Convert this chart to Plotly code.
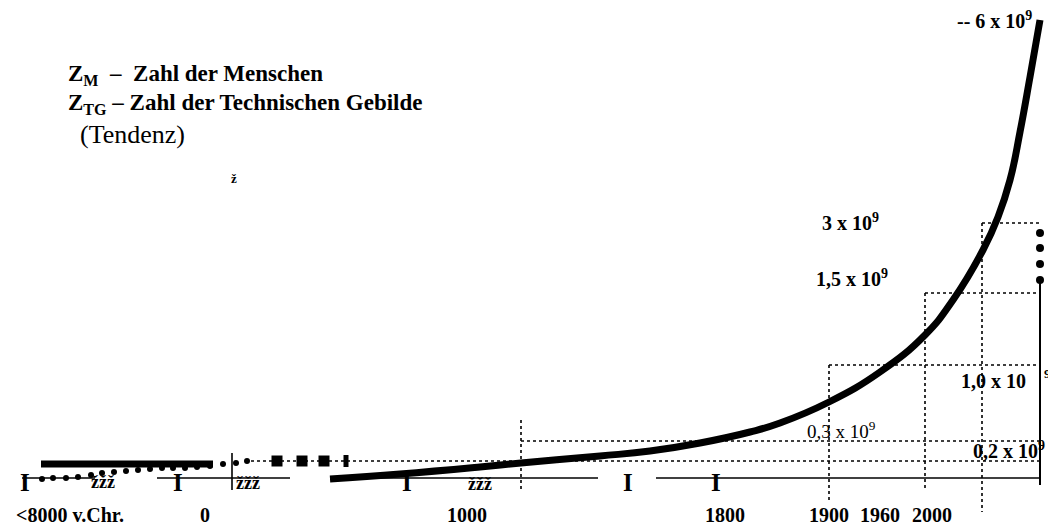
import plotly.graph_objects as go

# Diagram coordinates (schematic; x to the right, y downwards)
curve_x = [330, 400, 480, 521, 600, 650, 700, 750, 780, 829, 880, 925, 953, 983, 998, 1010, 1020, 1030, 1040]
curve_y = [479, 474, 467, 463, 456, 451, 443, 432, 423, 402, 372, 335, 300, 250, 217, 180, 132, 77, 20]

tg_dots_x = [42, 53, 66, 78, 91, 102, 114, 126, 138, 150, 162, 173, 185, 197, 210, 223, 236, 247]
tg_dots_y = [479, 478, 478, 477, 475, 473, 472, 471, 470, 469, 468, 468, 468, 467, 466, 464, 463, 461]
tg_squares_x = [277, 302, 324]
tg_squares_y = [461, 461, 461]

bar_x = [41, 213]
bar_y = [464, 464]

base_segments = [(22, 95), (157, 290), (330, 598), (656, 1040)]
base_y = 478

i_marks_x = [25, 178, 407, 628, 716]
zzz_x = [103, 248, 480]
zzz_y = [482, 483, 484]

# dotted guide lines: (x0, y0, x1, y1)
guides = [
    (245, 461, 1040, 461),
    (521, 441, 1040, 441),
    (521, 420, 521, 490),
    (829, 365, 1038, 365),
    (829, 365, 829, 500),
    (925, 293, 1038, 293),
    (925, 293, 925, 490),
    (982, 223, 1040, 223),
    (982, 223, 982, 512),
]

right_dots_y = [233, 248, 264, 280]
right_x = 1040

tick_labels = ["<8000 v.Chr.", "0", "1000", "1800", "1900", "1960", "2000"]
tick_x = [70, 205, 467, 725, 829, 880, 932]
tick_y = 515

value_labels = [
    ("-- 6 x 10<sup>9</sup>", 1034, 20, "right", True, 20),
    ("3 x 10<sup>9</sup>", 850, 222, "center", True, 20),
    ("1,5 x 10<sup>9</sup>", 852, 278, "center", True, 20),
    ("1,0 x 10", 1028, 381, "right", True, 20),
    ("0,3 x 10<sup>9</sup>", 841, 430, "center", False, 19),
    ("0,2 x 10<sup>9</sup>", 1047, 450, "right", True, 20),
]

FONT = "Liberation Serif, Times New Roman, serif"

fig = go.Figure()

# dotted guides
for x0, y0, x1, y1 in guides:
    fig.add_trace(go.Scatter(x=[x0, x1], y=[y0, y1], mode="lines",
                             line=dict(color="black", width=1.6, dash="dot"),
                             hoverinfo="skip"))

# baseline segments
for a, b in base_segments:
    fig.add_trace(go.Scatter(x=[a, b], y=[base_y, base_y], mode="lines",
                             line=dict(color="black", width=1.6), hoverinfo="skip"))

# vertical line at year 0
fig.add_trace(go.Scatter(x=[232, 232], y=[453, 490], mode="lines",
                         line=dict(color="black", width=1.6), hoverinfo="skip"))

# right vertical line with dots
fig.add_trace(go.Scatter(x=[right_x, right_x], y=[280, 485], mode="lines",
                         line=dict(color="black", width=2), hoverinfo="skip"))
fig.add_trace(go.Scatter(x=[right_x] * len(right_dots_y), y=right_dots_y, mode="markers",
                         marker=dict(color="black", size=8), hoverinfo="skip"))

# bold bar (Z_M early)
fig.add_trace(go.Scatter(x=bar_x, y=bar_y, mode="lines",
                         line=dict(color="black", width=7), hoverinfo="skip"))

# Z_TG dots and squares
fig.add_trace(go.Scatter(x=tg_dots_x, y=tg_dots_y, mode="markers",
                         marker=dict(color="black", size=6), hoverinfo="skip"))
fig.add_trace(go.Scatter(x=tg_squares_x, y=tg_squares_y, mode="markers",
                         marker=dict(color="black", size=11, symbol="square"), hoverinfo="skip"))
fig.add_trace(go.Scatter(x=[346, 346], y=[455, 467], mode="lines",
                         line=dict(color="black", width=5), hoverinfo="skip"))

# main curve
fig.add_trace(go.Scatter(x=curve_x, y=curve_y, mode="lines",
                         line=dict(color="black", width=7, shape="spline", smoothing=1.3),
                         hoverinfo="skip"))

ann = []
for xv in i_marks_x:
    ann.append(dict(x=xv, y=base_y + 4, text="<b>I</b>", showarrow=False,
                    font=dict(family=FONT, size=25, color="black"),
                    xanchor="center", yanchor="middle"))
for xv, yv in zip(zzz_x, zzz_y):
    ann.append(dict(x=xv, y=yv, text="<b>žžž</b>", showarrow=False,
                    font=dict(family=FONT, size=18, color="black"),
                    xanchor="center", yanchor="middle"))
for t, xv in zip(tick_labels, tick_x):
    ann.append(dict(x=xv, y=tick_y, text="<b>" + t + "</b>", showarrow=False,
                    font=dict(family=FONT, size=20, color="black"),
                    xanchor="center", yanchor="middle"))
for t, xv, yv, anc, bold, sz in value_labels:
    ann.append(dict(x=xv, y=yv, text=("<b>" + t + "</b>") if bold else t, showarrow=False,
                    font=dict(family=FONT, size=sz, color="black"),
                    xanchor=anc, yanchor="middle"))
ann.append(dict(x=1042, y=373, text="<b>9</b>", showarrow=False,
                font=dict(family=FONT, size=13, color="black"), xanchor="left", yanchor="middle"))

ann.append(dict(x=66, y=75, text="<b>Z<sub>M</sub>  –  Zahl der Menschen</b>", showarrow=False,
                font=dict(family=FONT, size=23, color="black"), xanchor="left", yanchor="middle"))
ann.append(dict(x=66, y=104, text="<b>Z<sub>TG</sub> – Zahl der Technischen Gebilde</b>", showarrow=False,
                font=dict(family=FONT, size=23, color="black"), xanchor="left", yanchor="middle"))
ann.append(dict(x=78, y=134, text="(Tendenz)", showarrow=False,
                font=dict(family=FONT, size=26, color="black"), xanchor="left", yanchor="middle"))
ann.append(dict(x=234, y=178, text="<b>ž</b>", showarrow=False,
                font=dict(family=FONT, size=13, color="black"), xanchor="center", yanchor="middle"))

fig.update_layout(
    width=1048, height=527,
    margin=dict(l=0, r=0, t=0, b=0),
    paper_bgcolor="white", plot_bgcolor="white",
    showlegend=False,
    xaxis=dict(range=[0, 1048], visible=False, fixedrange=True),
    yaxis=dict(range=[527, 0], visible=False, fixedrange=True),
    annotations=ann,
)

fig.write_html("out.html", config={"displayModeBar": False},
               post_script="document.body.style.margin='0px';")
